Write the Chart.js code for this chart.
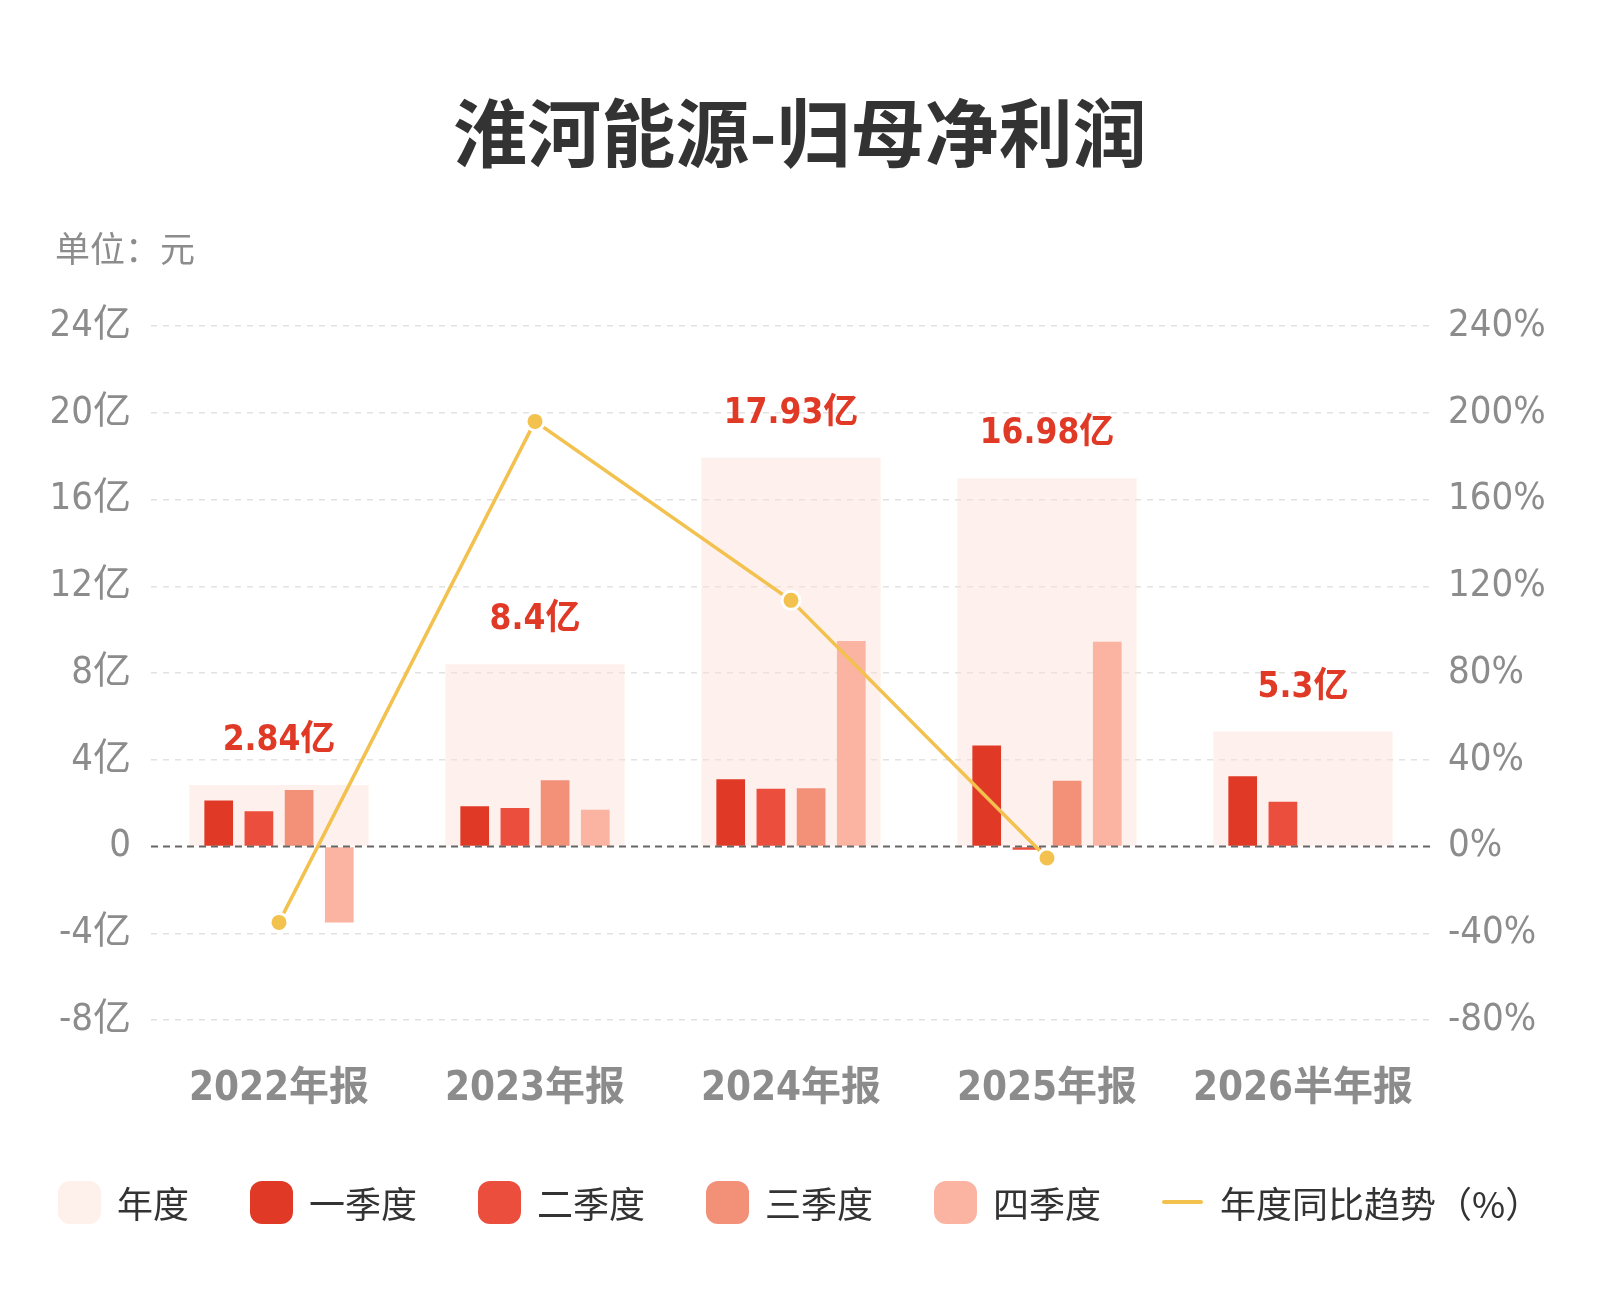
<!DOCTYPE html>
<html>
<head>
<meta charset="utf-8">
<script src="https://cdn.jsdelivr.net/npm/chart.js@4.4.1/dist/chart.umd.min.js"></script>
<style>
  html, body { margin: 0; padding: 0; background: #fff; }
  #wrap { position: relative; width: 1600px; height: 1300px; overflow: hidden; }
  #title { position: absolute; left: 0; width: 1600px; top: 84px; text-align: center;
    font: bold 74px "Noto Sans CJK SC", sans-serif; color: #333; line-height: 90px; }
  #unit { position: absolute; left: 55px; top: 225px; font: 35px "Noto Sans CJK SC", sans-serif;
    color: #8c8c8c; line-height: 44px; }
  #legend { position: absolute; left: 58px; top: 1176px; width: 1540px; display: flex; align-items: center;
    font: 36px "Noto Sans CJK SC", sans-serif; color: #333; white-space: nowrap; }
  .item { display: flex; align-items: center; margin-right: 61px; flex-shrink: 0; }
  .item:last-child { margin-right: 0; }
  .box { width: 43px; height: 43px; border-radius: 12px; margin-right: 16px; flex-shrink: 0; }
  .ln { width: 41px; height: 4px; border-radius: 2px; margin-right: 17px; flex-shrink: 0; }
</style>
</head>
<body>
<div id="wrap">
  <canvas id="grafico" width="1600" height="1300"></canvas>
  <div id="title">淮河能源-归母净利润</div>
  <div id="unit">单位：元</div>
  <div id="legend"></div>
</div>
<script>
// datos (亿元)
const categorias = ['2022年报', '2023年报', '2024年报', '2025年报', '2026半年报'];
const anual = [2.84, 8.4, 17.93, 16.98, 5.3];
const anualTexto = ['2.84亿', '8.4亿', '17.93亿', '16.98亿', '5.3亿'];
const q1 = [2.12, 1.86, 3.1, 4.66, 3.24];
const q2 = [1.62, 1.78, 2.66, -0.15, 2.06];
const q3 = [2.6, 3.06, 2.69, 3.03, null];
const q4 = [-3.5, 1.7, 9.48, 9.44, null];
const yoy = [-35, 196, 113.5, -5.3, null];
const ticksIzq = [-8, -4, 0, 4, 8, 12, 16, 20, 24];
const ticksDer = [-80, -40, 0, 40, 80, 120, 160, 200, 240];

const colores = {
    anual: 'rgba(253, 222, 212, 0.45)',
    anualLeyenda: '#fef0eb',
    q1: '#e03a27',
    q2: '#ec4e3d',
    q3: '#f29078',
    q4: '#fbb3a2',
    linea: '#f2c14e'
};

const fuenteNum = '"Liberation Sans Narrow", "DejaVu Sans Condensed", "Noto Sans CJK SC"';

// leyenda HTML
const leyenda = [
    ['年度', colores.anualLeyenda, 'box'],
    ['一季度', colores.q1, 'box'],
    ['二季度', colores.q2, 'box'],
    ['三季度', colores.q3, 'box'],
    ['四季度', colores.q4, 'box'],
    ['年度同比趋势（%）', colores.linea, 'ln']
];
document.getElementById('legend').innerHTML = leyenda.map(([t, c, k]) =>
    `<div class="item"><div class="${k}" style="background:${c}"></div><span>${t}</span></div>`).join('');

// linea de cero punteada
const lineaCero = {
    id: 'lineaCero',
    beforeDatasetDraw(chart, args) {
        if (args.meta.type !== 'line') return;
        const { ctx, chartArea } = chart;
        const y = chart.scales.y.getPixelForValue(0);
        ctx.save();
        ctx.strokeStyle = '#666';
        ctx.lineWidth = 2;
        ctx.setLineDash([7, 5]);
        ctx.beginPath();
        ctx.moveTo(chartArea.left, y);
        ctx.lineTo(chartArea.right, y);
        ctx.stroke();
        ctx.restore();
    }
};

// etiquetas sobre las barras anuales
const etiquetas = {
    id: 'etiquetas',
    afterDatasetsDraw(chart) {
        const meta = chart.getDatasetMeta(0);
        const { ctx } = chart;
        ctx.save();
        ctx.fillStyle = '#e03a27';
        ctx.font = 'bold 35px ' + fuenteNum;
        ctx.textAlign = 'center';
        ctx.textBaseline = 'middle';
        meta.data.forEach((bar, i) => {
            ctx.fillText(anualTexto[i], bar.x, bar.y - 44);
        });
        ctx.restore();
    }
};

const ctx = document.getElementById('grafico').getContext('2d');
const grafico = new Chart(ctx, {
    data: {
        labels: categorias,
        datasets: [{
            type: 'bar',
            label: '年度',
            data: anual,
            backgroundColor: colores.anual,
            grouped: false,
            categoryPercentage: 1,
            barPercentage: 0.7,
            order: 3
        },
        ...[['一季度', q1, colores.q1], ['二季度', q2, colores.q2],
            ['三季度', q3, colores.q3], ['四季度', q4, colores.q4]].map(([l, d, c]) => ({
            type: 'bar',
            label: l,
            data: d,
            backgroundColor: c,
            categoryPercentage: 0.628,
            barPercentage: 0.714,
            order: 2
        })),
        {
            type: 'line',
            label: '年度同比趋势（%）',
            data: yoy,
            yAxisID: 'y1',
            borderColor: colores.linea,
            borderWidth: 3.5,
            pointRadius: 9,
            pointBackgroundColor: colores.linea,
            pointBorderColor: '#fff',
            pointBorderWidth: 3,
            spanGaps: false,
            tension: 0,
            order: 0
        }]
    },
    options: {
        responsive: false,
        animation: false,
        layout: { padding: { top: 326, bottom: 160, left: 0, right: 0 } },
        plugins: {
            legend: { display: false },
            tooltip: { enabled: false }
        },
        scales: {
            x: {
                grid: { display: false, drawTicks: false },
                border: { display: false },
                ticks: {
                    padding: 46,
                    color: '#8c8c8c',
                    font: { family: fuenteNum, size: 40, weight: 'bold' }
                },
                afterFit: s => { s.height = 120; }
            },
            y: {
                position: 'left',
                min: ticksIzq[0],
                max: ticksIzq[ticksIzq.length - 1],
                afterBuildTicks: s => { s.ticks = ticksIzq.map(v => ({ value: v })); },
                grid: {
                    drawTicks: false,
                    lineWidth: 1.5,
                    color: c => c.tick && c.tick.value === 0 ? 'rgba(0,0,0,0)' : '#e2e2e2'
                },
                border: { display: false, dash: [6, 6] },
                ticks: {
                    padding: 20,
                    color: '#8c8c8c',
                    font: { family: fuenteNum, size: 38 },
                    callback: v => v === 0 ? '0' : v + '亿'
                },
                afterFit: s => { s.width = 151; }
            },
            y1: {
                position: 'right',
                min: ticksDer[0],
                max: ticksDer[ticksDer.length - 1],
                afterBuildTicks: s => { s.ticks = ticksDer.map(v => ({ value: v })); },
                grid: { display: false, drawTicks: false },
                border: { display: false },
                ticks: {
                    padding: 17,
                    color: '#8c8c8c',
                    font: { family: fuenteNum, size: 38 },
                    callback: v => v + '%'
                },
                afterFit: s => { s.width = 169; }
            }
        }
    },
    plugins: [lineaCero, etiquetas]
});
</script>
</body>
</html>
